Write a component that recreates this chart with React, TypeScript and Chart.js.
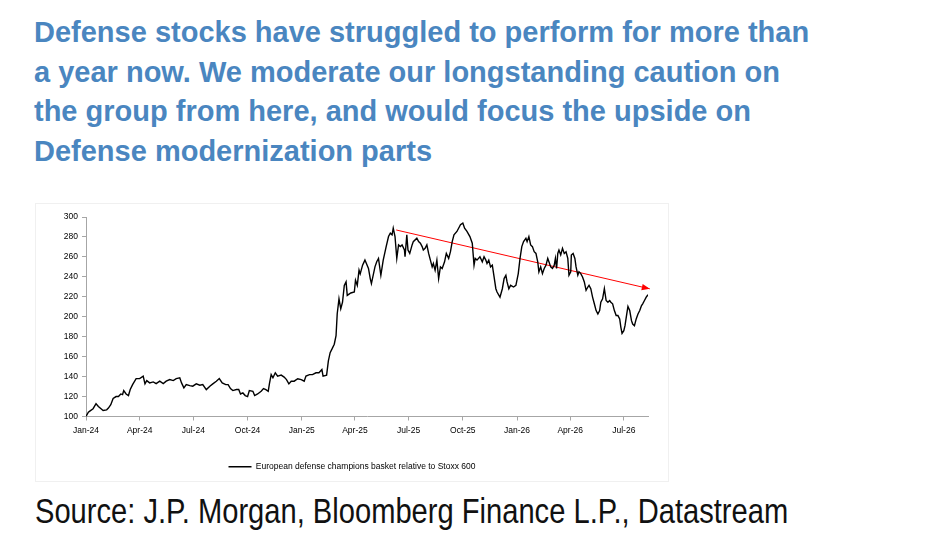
import React, { useEffect, useRef } from "react";
import { Chart, registerables } from "chart.js";

Chart.register(...registerables);

// ---- data ----
const dates: string[] = [
  "2024-01-01", "2024-01-05", "2024-01-08", "2024-01-13", "2024-01-18", "2024-01-22", "2024-01-26", "2024-01-30",
  "2024-02-05", "2024-02-08", "2024-02-12", "2024-02-16", "2024-02-21", "2024-02-25", "2024-02-29", "2024-03-03",
  "2024-03-05", "2024-03-09", "2024-03-13", "2024-03-16", "2024-03-20", "2024-03-26", "2024-04-01", "2024-04-07",
  "2024-04-10", "2024-04-13", "2024-04-18", "2024-04-24", "2024-04-29", "2024-05-05", "2024-05-11", "2024-05-16",
  "2024-05-22", "2024-05-28", "2024-06-02", "2024-06-08", "2024-06-11", "2024-06-15", "2024-06-19", "2024-06-25",
  "2024-06-30", "2024-07-06", "2024-07-12", "2024-07-17", "2024-07-23", "2024-07-29", "2024-08-03", "2024-08-09",
  "2024-08-14", "2024-08-19", "2024-08-25", "2024-08-29", "2024-09-02", "2024-09-06", "2024-09-12", "2024-09-16",
  "2024-09-19", "2024-09-23", "2024-09-27", "2024-10-01", "2024-10-04", "2024-10-10", "2024-10-13", "2024-10-18",
  "2024-10-24", "2024-10-28", "2024-11-01", "2024-11-05", "2024-11-07", "2024-11-10", "2024-11-13", "2024-11-17",
  "2024-11-21", "2024-11-27", "2024-12-02", "2024-12-06", "2024-12-10", "2024-12-14", "2024-12-19", "2024-12-25",
  "2024-12-31", "2025-01-05", "2025-01-08", "2025-01-14", "2025-01-19", "2025-01-25", "2025-01-30", "2025-02-04",
  "2025-02-06", "2025-02-12", "2025-02-15", "2025-02-18", "2025-02-21", "2025-02-25", "2025-02-28", "2025-03-02",
  "2025-03-05", "2025-03-08", "2025-03-11", "2025-03-14", "2025-03-17", "2025-03-19", "2025-03-25", "2025-03-31",
  "2025-04-02", "2025-04-05", "2025-04-08", "2025-04-10", "2025-04-14", "2025-04-18", "2025-04-24", "2025-04-27",
  "2025-04-29", "2025-05-05", "2025-05-08", "2025-05-11", "2025-05-15", "2025-05-19", "2025-05-24", "2025-05-28",
  "2025-05-31", "2025-06-03", "2025-06-05", "2025-06-08", "2025-06-11", "2025-06-14", "2025-06-17", "2025-06-20",
  "2025-06-24", "2025-06-25", "2025-06-28", "2025-06-30", "2025-07-03", "2025-07-07", "2025-07-09", "2025-07-15",
  "2025-07-18", "2025-07-21", "2025-07-24", "2025-07-26", "2025-07-29", "2025-08-01", "2025-08-04", "2025-08-07",
  "2025-08-10", "2025-08-12", "2025-08-15", "2025-08-18", "2025-08-21", "2025-08-24", "2025-08-27", "2025-08-31",
  "2025-09-03", "2025-09-07", "2025-09-10", "2025-09-13", "2025-09-16", "2025-09-21", "2025-09-27", "2025-10-01",
  "2025-10-04", "2025-10-08", "2025-10-13", "2025-10-17", "2025-10-20", "2025-10-22", "2025-10-25", "2025-10-30",
  "2025-11-03", "2025-11-06", "2025-11-09", "2025-11-11", "2025-11-14", "2025-11-17", "2025-11-20", "2025-11-23",
  "2025-11-26", "2025-11-28", "2025-12-03", "2025-12-07", "2025-12-10", "2025-12-13", "2025-12-15", "2025-12-18",
  "2025-12-21", "2025-12-26", "2025-12-30", "2026-01-03", "2026-01-06", "2026-01-09", "2026-01-12", "2026-01-16",
  "2026-01-18", "2026-01-21", "2026-01-24", "2026-01-27", "2026-01-30", "2026-02-02", "2026-02-05", "2026-02-07",
  "2026-02-10", "2026-02-13", "2026-02-16", "2026-02-19", "2026-02-22", "2026-02-24", "2026-02-27", "2026-03-02",
  "2026-03-05", "2026-03-07", "2026-03-09", "2026-03-11", "2026-03-13", "2026-03-16", "2026-03-19", "2026-03-22",
  "2026-03-25", "2026-03-28", "2026-03-30", "2026-04-02", "2026-04-03", "2026-04-06", "2026-04-09", "2026-04-11",
  "2026-04-14", "2026-04-16", "2026-04-19", "2026-04-22", "2026-04-25", "2026-04-28", "2026-05-01", "2026-05-03",
  "2026-05-06", "2026-05-09", "2026-05-12", "2026-05-15", "2026-05-18", "2026-05-21", "2026-05-23", "2026-05-26",
  "2026-05-29", "2026-06-01", "2026-06-04", "2026-06-07", "2026-06-09", "2026-06-12", "2026-06-15", "2026-06-18",
  "2026-06-21", "2026-06-24", "2026-06-26", "2026-06-28", "2026-07-01", "2026-07-03", "2026-07-06", "2026-07-08",
  "2026-07-11", "2026-07-14", "2026-07-16", "2026-07-19", "2026-07-22", "2026-07-25", "2026-07-28", "2026-07-31",
  "2026-08-02", "2026-08-05", "2026-08-08", "2026-08-11",
];

const values: number[] = [
  100, 104.4, 105.7, 107.8, 112.8, 110, 108, 106,
  106.7, 108.4, 111.8, 118, 120, 120, 122.6, 122,
  126, 122.6, 121, 127, 132, 138, 138, 140.5,
  132.7, 136, 133.7, 134.7, 133, 135.4, 133, 135.4,
  137, 136, 138, 138.8, 133.7, 128.7, 132, 131,
  130.4, 132.7, 131.4, 132, 127, 130.4, 132.7, 135.4,
  138, 133.7, 132, 132, 128, 126, 127, 127,
  122.6, 123.6, 121, 120, 126, 125.3, 121, 122.6,
  125.3, 128, 127, 125.3, 132.7, 142, 138.8, 143.8,
  140.5, 141.5, 139.5, 137, 132.7, 135.4, 135.4, 137.8,
  137, 135.4, 140.5, 142, 142, 143.8, 143.8, 147,
  140.5, 141.5, 155.7, 164, 167.5, 172.5, 181, 203,
  218, 208, 214.7, 231.5, 235, 221.4, 223.8, 224.8,
  236.6, 231.5, 246.7, 243, 251.7, 256.8, 248.4, 238.3,
  233.2, 250, 255.1, 258.5, 241.6, 256.8, 270.3, 280.4,
  283.8, 282.1, 288.8, 280.4, 258.5, 272, 270.3, 272,
  266.9, 260.2, 282.1, 266.9, 263.5, 272, 275.3, 278.7,
  275.3, 273.7, 270.3, 266.9, 268.6, 272, 263.5, 256.8,
  250, 253.4, 246.7, 256.8, 238.3, 250, 248.4, 255.1,
  263.5, 258.5, 265.2, 275.3, 282.1, 285.5, 292.2, 293.9,
  288.8, 285.5, 280.4, 273.7, 251.7, 258.5, 256.8, 260.2,
  255.1, 260.2, 256.8, 253.4, 256.8, 250, 251.7, 239.9,
  228.1, 224.8, 219.7, 228.1, 238.3, 241.6, 234.9, 228.1,
  231.5, 229.8, 231.5, 243.3, 258.5, 270.3, 275.3, 278.7,
  275.3, 280.4, 272, 270.3, 265.2, 263.5, 255.1, 245,
  250, 243.3, 248.4, 251.7, 258.5, 255.1, 250, 248.4,
  251.7, 258.5, 248.4, 263.5, 266.9, 261.9, 268.6, 263.5,
  265.2, 258.5, 241.6, 245, 261.9, 263.5, 258.5, 250,
  241.6, 245, 243.3, 239.9, 234.9, 226.5, 229.8, 231.5,
  228.1, 219.7, 213, 206.2, 202.8, 206.2, 214.6, 218,
  228.1, 216.3, 214.6, 216.3, 214.6, 213, 206.2, 201.2,
  201.2, 197.8, 189.4, 183.3, 186, 191, 202.8, 210.3,
  206.2, 196.1, 192.7, 191, 197.8, 202.8, 206.2, 211.3,
  213, 216.3, 219.7, 222.1,
];

const tickDates: string[] = [
  "2024-01-01", "2024-04-01", "2024-07-01", "2024-10-01", "2025-01-01", "2025-04-01",
  "2025-07-01", "2025-10-01", "2026-01-01", "2026-04-01", "2026-07-01",
];
const tickLabels: string[] = [
  "Jan-24", "Apr-24", "Jul-24", "Oct-24", "Jan-25", "Apr-25",
  "Jul-25", "Oct-25", "Jan-26", "Apr-26", "Jul-26",
];

const arrowDates: string[] = ["2025-06-10", "2026-08-14"];
const arrowValues: number[] = [287, 228];

const seriesName = "European defense champions basket relative to Stoxx 600";
const titleLines: string[] = [
  "Defense stocks have struggled to perform for more than",
  "a year now. We moderate our longstanding caution on",
  "the group from here, and would focus the upside on",
  "Defense modernization parts",
];
const sourceText = "Source: J.P. Morgan, Bloomberg Finance L.P., Datastream";

// ---- helpers ----
const ORIGIN = Date.UTC(2024, 0, 1);
const toDay = (s: string) => {
  const [y, m, d] = s.split("-").map(Number);
  return Math.round((Date.UTC(y, m - 1, d) - ORIGIN) / 86400000);
};

const arrowHeadPlugin = {
  id: "arrowHead",
  afterDatasetsDraw(chart: any) {
    const meta = chart.getDatasetMeta(1);
    const pts = meta.data;
    if (!pts || pts.length < 2) return;
    const a = pts[pts.length - 2];
    const b = pts[pts.length - 1];
    const ang = Math.atan2(b.y - a.y, b.x - a.x);
    const len = 8;
    const hw = 3.2;
    const c = Math.cos(ang);
    const s = Math.sin(ang);
    const ctx = chart.ctx;
    ctx.save();
    ctx.fillStyle = "#ff0000";
    ctx.beginPath();
    ctx.moveTo(b.x, b.y);
    ctx.lineTo(b.x - len * c + hw * s, b.y - len * s - hw * c);
    ctx.lineTo(b.x - len * c - hw * s, b.y - len * s + hw * c);
    ctx.closePath();
    ctx.fill();
    ctx.restore();
  },
};

function ChartBox() {
  const ref = useRef<HTMLCanvasElement | null>(null);
  useEffect(() => {
    if (!ref.current) return;
    const tickDays = tickDates.map(toDay);
    const labelMap: Record<number, string> = {};
    tickDays.forEach((d, i) => (labelMap[d] = tickLabels[i]));
    const mainData = dates.map((d, i) => ({ x: toDay(d), y: values[i] }));
    const arrowData = arrowDates.map((d, i) => ({ x: toDay(d), y: arrowValues[i] }));
    const xMax = toDay(dates[dates.length - 1]);
    const font = { family: "'Liberation Sans', Arial, sans-serif", size: 8.5 };

    const chart = new Chart(ref.current, {
      type: "line",
      data: {
        datasets: [
          {
            label: seriesName,
            data: mainData,
            borderColor: "#000000",
            backgroundColor: "#000000",
            borderWidth: 1.4,
            pointRadius: 0,
            tension: 0,
          },
          {
            label: "trend",
            data: arrowData,
            borderColor: "#ff0000",
            backgroundColor: "#ff0000",
            borderWidth: 1,
            pointRadius: 0,
            tension: 0,
            clip: false as any,
          },
        ],
      },
      options: {
        animation: false,
        responsive: true,
        maintainAspectRatio: false,
        layout: { padding: { left: 20, right: 20, top: 13, bottom: 0 } },
        plugins: {
          tooltip: { enabled: false },
          legend: {
            display: true,
            position: "bottom",
            labels: {
              font,
              color: "#000",
              boxWidth: 23,
              boxHeight: 1.3,
              padding: 10,
              filter: (item: any) => item.datasetIndex === 0,
              generateLabels: (c: any) => {
                const items = Chart.defaults.plugins.legend.labels.generateLabels(c);
                return items.map((it: any) => ({ ...it, lineWidth: 0, fillStyle: "#000" }));
              },
            },
          },
        },
        scales: {
          x: {
            type: "linear",
            min: 0,
            max: xMax,
            afterBuildTicks: (scale: any) => {
              scale.ticks = tickDays.map((v) => ({ value: v }));
            },
            afterFit: (scale: any) => {
              scale.height = 36;
            },
            ticks: {
              font,
              color: "#000",
              autoSkip: false,
              maxRotation: 0,
              padding: 5,
              callback: (v: any) => labelMap[v as number] ?? "",
            },
            grid: {
              display: true,
              drawOnChartArea: false,
              drawTicks: true,
              tickLength: 4,
              color: "#a6a6a6",
            },
            border: { display: true, color: "#a6a6a6", width: 1 },
          },
          y: {
            min: 100,
            max: 300,
            afterFit: (scale: any) => {
              scale.width = 30;
            },
            ticks: { stepSize: 20, font, color: "#000", padding: 4 },
            grid: {
              display: true,
              drawOnChartArea: false,
              drawTicks: true,
              tickLength: 4,
              color: "#a6a6a6",
            },
            border: { display: true, color: "#a6a6a6", width: 1 },
          },
        },
      },
      plugins: [arrowHeadPlugin],
    });
    return () => chart.destroy();
  }, []);
  return <canvas ref={ref} />;
}

export default function App() {
  return (
    <div>
      <div
        style={{
          position: "absolute",
          left: 34,
          top: 13,
          fontFamily: "'Liberation Sans', Arial, sans-serif",
          fontWeight: "bold",
          fontSize: 29,
          lineHeight: "39.7px",
          color: "#4a86c0",
          whiteSpace: "nowrap",
        }}
      >
        {titleLines.map((t, i) => (
          <div key={i}>{t}</div>
        ))}
      </div>
      <div
        style={{
          position: "absolute",
          left: 35,
          top: 203,
          width: 634,
          height: 279,
          border: "1px solid #f0f0f0",
          boxSizing: "border-box",
        }}
      >
        <div style={{ position: "relative", width: "100%", height: "100%" }}>
          <ChartBox />
        </div>
      </div>
      <div
        style={{
          position: "absolute",
          left: 34.5,
          top: 491,
          fontFamily: "'Liberation Sans', Arial, sans-serif",
          fontSize: 35,
          lineHeight: "40px",
          color: "#111",
          whiteSpace: "nowrap",
          transform: "scaleX(0.832)",
          transformOrigin: "0 0",
        }}
      >
        {sourceText}
      </div>
    </div>
  );
}
